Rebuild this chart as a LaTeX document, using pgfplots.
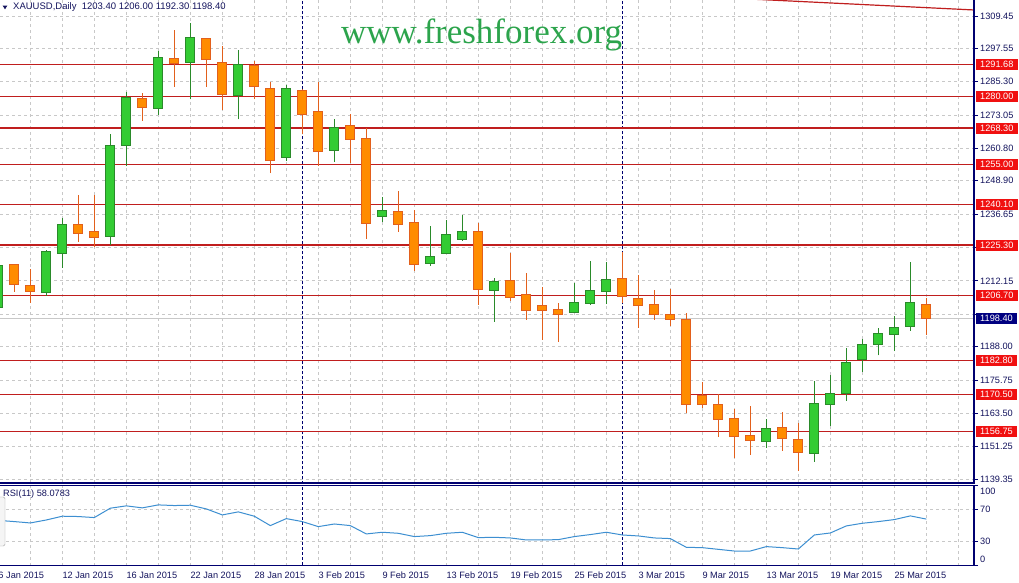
\documentclass[border=0pt]{standalone}
\usepackage{pgfplots}
\pgfplotsset{compat=1.18}
\usepackage{pgfplotstable}
\usepackage{fontspec}
\setmainfont{Liberation Sans}
\newfontfamily\wmfont{Liberation Serif}
\definecolor{navyax}{HTML}{000070}
\definecolor{labtxt}{HTML}{14145E}
\definecolor{gridgray}{HTML}{C8C8C8}
\definecolor{upfill}{HTML}{33CC33}
\definecolor{upedge}{HTML}{2A8A2A}
\definecolor{dnfill}{HTML}{FF8C00}
\definecolor{dnedge}{HTML}{E2601C}
\definecolor{redline}{HTML}{C01E1E}
\definecolor{boxred}{HTML}{F01010}
\definecolor{boxnavy}{HTML}{000080}
\definecolor{bidgray}{HTML}{C8C8C8}
\definecolor{wmgreen}{HTML}{2CA44C}
\definecolor{rsiblue}{HTML}{3D8FD1}
\newcommand\lbl{\fontsize{9.2bp}{10bp}\selectfont}

\pgfplotstableread{
j o h l c
0 1202.43 1219.5 1201.0 1217.86
3 1207.8 1223.5 1206.6 1222.75
4 1222.27 1235.2 1217.0 1232.67
7 1228.5 1266.0 1225.4 1261.95
8 1261.95 1281.6 1254.3 1279.57
10 1275.5 1296.6 1273.08 1294.3
12 1292.4 1306.8 1278.85 1301.6
15 1280.2 1296.96 1271.5 1291.7
18 1257.54 1284.1 1256.2 1282.9
21 1260.1 1271.6 1255.8 1268.6
24 1235.86 1243.07 1233.66 1238.07
27 1218.6 1232.3 1217.7 1221.16
28 1222.27 1234.5 1222.0 1229.25
29 1227.4 1236.3 1226.9 1230.35
31 1208.7 1213.1 1197.1 1211.98
36 1200.6 1211.5 1200.3 1204.27
37 1203.9 1219.4 1203.2 1208.67
38 1208.2 1219.1 1203.8 1212.7
48 1153.06 1161.3 1150.9 1157.9
51 1148.8 1175.3 1145.7 1167.2
52 1166.8 1177.6 1158.9 1170.8
53 1170.6 1187.4 1168.1 1182.2
54 1183.3 1190.9 1178.8 1188.85
55 1188.85 1194.8 1184.8 1192.9
56 1192.5 1199.2 1186.3 1195.1
57 1195.45 1219.1 1193.9 1204.27
}\upc

\pgfplotstableread{
j o h l c
1 1218.23 1218.23 1208.17 1210.88
2 1210.51 1216.5 1204.13 1208.31
5 1232.67 1243.8 1226.5 1229.6
6 1230.35 1243.7 1224.5 1228.1
9 1279.2 1281.05 1270.99 1275.9
11 1293.9 1304.3 1283.5 1292.07
13 1301.26 1301.26 1283.5 1293.4
14 1292.4 1298.4 1274.9 1280.7
16 1291.3 1292.9 1278.85 1283.5
17 1282.9 1285.3 1251.7 1256.3
19 1281.9 1282.5 1266.0 1273.3
20 1274.4 1285.3 1254.46 1259.6
22 1269.15 1273.3 1255.6 1264.15
23 1264.5 1268.2 1227.6 1233.3
25 1237.6 1245.2 1230.2 1232.9
26 1233.66 1238.2 1215.9 1218.23
30 1230.35 1233.4 1203.4 1209.04
32 1212.35 1222.4 1204.85 1206.1
33 1207.2 1215.0 1197.9 1201.3
34 1203.17 1209.9 1190.5 1201.3
35 1201.7 1204.0 1189.8 1199.9
39 1213.1 1222.9 1204.1 1206.5
40 1205.7 1214.2 1194.9 1203.0
41 1203.5 1208.8 1197.9 1199.9
42 1199.9 1209.3 1195.7 1198.0
43 1197.77 1200.2 1163.5 1166.8
44 1169.85 1175.1 1165.6 1166.8
45 1166.8 1170.5 1154.9 1161.3
46 1161.65 1165.1 1147.2 1154.9
47 1155.4 1166.2 1148.3 1153.4
49 1158.35 1164.0 1149.8 1154.2
50 1153.9 1160.0 1142.4 1149.2
58 1203.40 1206.00 1192.30 1198.40
}\dnc

\pgfplotstableread{
j rsi
0 56.5
1 55
2 53.3
3 57
4 61.7
5 61.3
6 60
7 71.7
8 74.6
9 72.1
10 75.8
11 75
12 75.4
13 70.8
14 63.3
15 67.1
16 61.7
17 50
18 58.7
19 55
20 48.7
21 52
22 50
23 39.6
24 41.7
25 40.4
26 36.3
27 37.5
28 40.4
29 41.7
30 35
31 35.4
32 34.6
33 32.1
34 32.1
35 32.5
36 36.3
37 38.8
38 41.7
39 38.3
40 37.1
41 34.6
42 33.8
43 22.9
44 22.5
45 20.4
46 18.3
47 18.3
48 23.8
49 22.5
50 20.8
51 38.3
52 40.8
53 49.6
54 52.9
55 55
56 57.5
57 62.1
58 58.1
}\rsidata

\begin{document}
\begin{tikzpicture}[x=1bp,y=1bp]
\useasboundingbox (0,0) rectangle (1019,583);
\fill[white] (0,0) rectangle (1019,583);

% ---------------- main price panel ----------------
\begin{axis}[
  at={(0bp,100bp)}, anchor=south west, scale only axis,
  width=974bp, height=483bp,
  xmin=0.106, xmax=60.98, ymin=1137.88, ymax=1315.33,
  axis line style={draw=none},
  xtick={2,4,...,60}, xticklabel=\empty, xtick style={draw=none},
  ytick={1139.35,1151.25,1163.50,1175.75,1188.00,1199.90,1212.15,1224.40,1236.65,1248.90,1260.80,1273.05,1285.30,1297.55,1309.45},
  yticklabels={1139.35,1151.25,1163.50,1175.75,1188.00,{},1212.15,{},1236.65,1248.90,1260.80,1273.05,1285.30,1297.55,1309.45},
  ytick pos=right, yticklabel pos=right,
  tick align=outside, major tick length=4bp,
  ytick style={draw=navyax, line width=0.8bp},
  yticklabel style={font=\lbl, text=labtxt, anchor=west, inner sep=0pt, xshift=2bp},
  grid=major,
  major grid style={draw=gridgray, dash pattern=on 3bp off 3bp, line width=0.8bp},
]
% bid line and period separators
\addplot[bidgray, line width=1bp, forget plot] coordinates {(0,1198.4) (61,1198.4)};
\addplot[navyax, line width=1bp, dash pattern=on 3bp off 2bp, forget plot] coordinates {(19,1130) (19,1320)};
\addplot[navyax, line width=1bp, dash pattern=on 3bp off 2bp, forget plot] coordinates {(39,1130) (39,1320)};
% horizontal levels
\pgfplotsinvokeforeach{1291.68,1280.00,1268.30,1255.00,1240.10,1225.30,1206.70,1182.80,1170.50,1156.75}{
  \addplot[redline, line width=1.2bp, forget plot] coordinates {(0,#1) (61,#1)};
}
% trend line
\addplot[redline, line width=1.2bp, forget plot] coordinates {(40,1317.68) (60.98,1311.66)};
% wicks
\addplot[draw=none, mark=none, forget plot,
  error bars/.cd, y dir=plus, y explicit, error mark=none,
  error bar style={draw=upedge, line width=1bp, solid}]
  table[x=j, y=l, y error plus expr=\thisrow{h}-\thisrow{l}] {\upc};
\addplot[draw=none, mark=none, forget plot,
  error bars/.cd, y dir=plus, y explicit, error mark=none,
  error bar style={draw=dnedge, line width=1bp, solid}]
  table[x=j, y=l, y error plus expr=\thisrow{h}-\thisrow{l}] {\dnc};
% bodies (outline then fill)
\addplot[draw=none, mark=none, forget plot,
  error bars/.cd, y dir=plus, y explicit, error mark=none,
  error bar style={draw=upedge, line width=10bp, solid}]
  table[x=j, y expr=\thisrow{o}-0.18, y error plus expr=\thisrow{c}-\thisrow{o}+0.36] {\upc};
\addplot[draw=none, mark=none, forget plot,
  error bars/.cd, y dir=plus, y explicit, error mark=none,
  error bar style={draw=upfill, line width=8bp, solid}]
  table[x=j, y expr=\thisrow{o}+0.18, y error plus expr=\thisrow{c}-\thisrow{o}-0.36] {\upc};
\addplot[draw=none, mark=none, forget plot,
  error bars/.cd, y dir=plus, y explicit, error mark=none,
  error bar style={draw=dnedge, line width=10bp, solid}]
  table[x=j, y expr=\thisrow{c}-0.18, y error plus expr=\thisrow{o}-\thisrow{c}+0.36] {\dnc};
\addplot[draw=none, mark=none, forget plot,
  error bars/.cd, y dir=plus, y explicit, error mark=none,
  error bar style={draw=dnfill, line width=8bp, solid}]
  table[x=j, y expr=\thisrow{c}+0.18, y error plus expr=\thisrow{o}-\thisrow{c}-0.36] {\dnc};
\end{axis}

% ---------------- RSI panel ----------------
\begin{axis}[
  at={(0bp,17.3bp)}, anchor=south west, scale only axis,
  width=974bp, height=80.2bp,
  xmin=0.106, xmax=60.98, ymin=0, ymax=100,
  axis line style={draw=none},
  xtick={4,8,...,60},
  xticklabels={12 Jan 2015,16 Jan 2015,22 Jan 2015,28 Jan 2015,3 Feb 2015,9 Feb 2015,13 Feb 2015,19 Feb 2015,25 Feb 2015,3 Mar 2015,9 Mar 2015,13 Mar 2015,19 Mar 2015,25 Mar 2015,{}},
  minor xtick={2,6,...,58},
  xtick style={draw=none}, minor tick style={draw=none},
  xticklabel style={font=\lbl, text=labtxt, anchor=north west, inner sep=0pt, yshift=-2bp},
  ytick={30,70}, yticklabels={30,70},
  extra y ticks={0,100}, extra y tick labels={}, extra y tick style={grid=none},
  ytick pos=right, yticklabel pos=right,
  tick align=outside, major tick length=4bp,
  ytick style={draw=navyax, line width=0.8bp},
  yticklabel style={font=\lbl, text=labtxt, anchor=west, inner sep=0pt, xshift=2bp},
  grid=both,
  major grid style={draw=gridgray, dash pattern=on 3bp off 3bp, line width=0.8bp},
  minor grid style={draw=gridgray, dash pattern=on 3bp off 3bp, line width=0.8bp},
]
\addplot[navyax, line width=1bp, dash pattern=on 3bp off 2bp, forget plot] coordinates {(19,-5) (19,105)};
\addplot[navyax, line width=1bp, dash pattern=on 3bp off 2bp, forget plot] coordinates {(39,-5) (39,105)};
\addplot[rsiblue, line width=1bp, mark=none] table[x=j, y=rsi] {\rsidata};
\end{axis}

% frames
\draw[navyax, line width=1.2bp] (0,100) -- (974,100) -- (974,583);
\draw[navyax, line width=1.2bp] (0,97.5) -- (974,97.5) -- (974,17.3) -- (0,17.3);

% right price boxes
\foreach \v in {1291.68,1280.00,1268.30,1255.00,1240.10,1225.30,1206.70,1182.80,1170.50,1156.75}{
  \pgfmathsetmacro\yy{100+(\v-1137.88)*2.72189}
  \node[fill=boxred, text=white, font=\lbl, anchor=west, inner xsep=4.5bp, inner ysep=0pt,
        minimum height=11bp] at (975.5,\yy) {\v};
}
\pgfmathsetmacro\yy{100+(1198.40-1137.88)*2.72189}
\node[fill=boxnavy, text=white, font=\lbl, anchor=west, inner xsep=4.5bp, inner ysep=0pt,
      minimum height=11bp] at (975.5,\yy) {1198.40};

% RSI extreme labels
\node[font=\lbl, text=labtxt, anchor=west, inner sep=0pt] at (980,92) {100};
\node[font=\lbl, text=labtxt, anchor=west, inner sep=0pt] at (980,24) {0};

% first date label (partly cut)
\node[font=\lbl, text=labtxt, anchor=north west, inner sep=0pt] at (-1.7,11.3) {6 Jan 2015};

% titles
\fill[labtxt] (2.7,577.3) -- (7.3,577.3) -- (5,573.7) -- cycle;
\node[font=\fontsize{9.5bp}{10bp}\selectfont, text=labtxt, anchor=west, inner sep=0pt] at (13,576) {XAUUSD,Daily\ \ 1203.40 1206.00 1192.30 1198.40};
\node[font=\lbl, text=labtxt, anchor=west, inner sep=0pt] at (3,89) {RSI(11) 58.0783};

% popup edge
\draw[gray!70, fill=gray!8, rounded corners=1.5bp] (-6,37) rectangle (5,86);

% watermark
\node[font=\wmfont\fontsize{35bp}{36bp}\selectfont, text=wmgreen, anchor=base west, inner sep=0pt] at (341,539) {www.freshforex.org};
\end{tikzpicture}
\end{document}
